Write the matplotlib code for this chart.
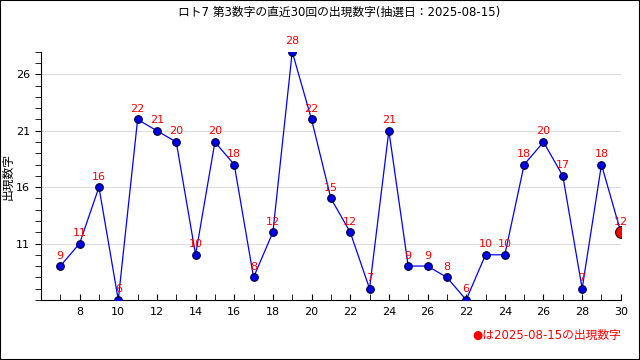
import matplotlib.pyplot as plt
from matplotlib.ticker import MultipleLocator
from matplotlib.patches import Rectangle

plt.rcParams['font.family'] = ['DejaVu Sans', 'Noto Sans CJK JP']

# data
positions = list(range(1, 31))
numbers = [9, 11, 16, 6, 22, 21, 20, 10, 20, 18, 8, 12, 28, 22, 15,
           12, 7, 21, 9, 9, 8, 6, 10, 10, 18, 20, 17, 7, 18, 12]
tick_pos = list(range(2, 31, 2))
tick_labels = ['8', '10', '12', '14', '16', '18', '20', '22', '24', '26',
               '22', '24', '26', '28', '30']
draw_date = '2025-08-15'

fig = plt.figure(figsize=(6.4, 3.6), dpi=100)
ax = fig.add_axes([0.064, 0.167, 0.906, 0.689])

ax.plot(positions, numbers, color='#0000ff', lw=0.9, marker='o', ms=5.5,
        mfc='#0000ee', mec='#000033', mew=0.8, zorder=3)
ax.plot(positions[-1], numbers[-1], marker='o', ms=8.5, color='#ff0000',
        mec='#330000', mew=0.8, zorder=4)

for x, y in zip(positions, numbers):
    ax.annotate(str(y), (x, y), xytext=(0, 4), textcoords='offset points',
                ha='center', va='bottom', color='#ff0000', fontsize=8, zorder=5)

ax.set_xlim(0, 30)
ax.set_ylim(6, 28)
ax.set_xticks(tick_pos)
ax.set_xticklabels(tick_labels)
ax.xaxis.set_minor_locator(MultipleLocator(1))
ax.set_yticks([11, 16, 21, 26])
ax.yaxis.set_minor_locator(MultipleLocator(1))
ax.tick_params(axis='x', which='both', direction='in', length=4, labelsize=8, pad=5)
ax.tick_params(axis='y', which='both', direction='out', length=4, labelsize=8, pad=4)
ax.grid(axis='y', which='major', color='#dddddd', lw=0.8)
ax.set_axisbelow(True)
for s in ['top', 'right']:
    ax.spines[s].set_visible(False)

fig.text(0.013, 0.51, '出現数字', rotation=90, ha='center', va='center', fontsize=8.5)

fig.text(0.53, 0.965, 'ロト7 第3数字の直近30回の出現数字(抽選日：' + draw_date + ')',
         ha='center', va='center', fontsize=8.5)
fig.text(0.97, 0.068, '●は' + draw_date + 'の出現数字', ha='right', va='center',
         color='#ff0000', fontsize=8.5)

fig.patches.append(Rectangle((0, 0), 1, 1, transform=fig.transFigure,
                             fill=False, edgecolor='black', lw=1.5))

fig.savefig('out.png', dpi=100)
